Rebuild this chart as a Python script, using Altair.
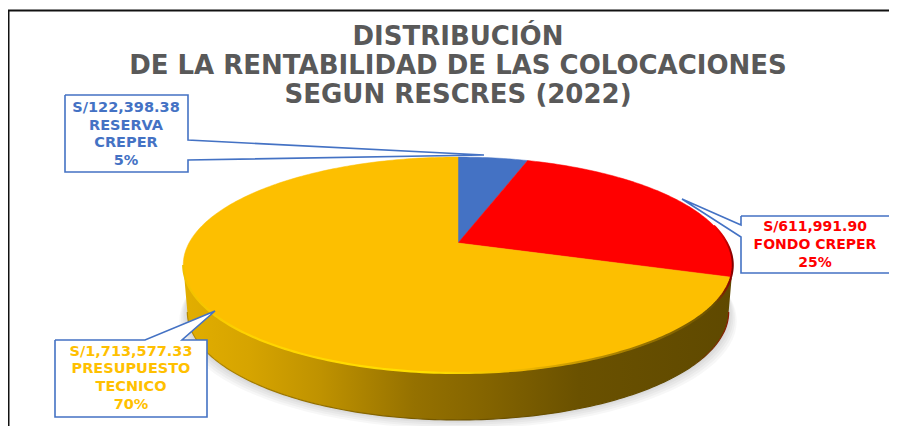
import math
import altair as alt
import pandas as pd

# Chart values
names = ["RESERVA CREPER", "FONDO CREPER", "PRESUPUESTO TECNICO"]
amounts = [122398.38, 611991.90, 1713577.33]
colors = ["#4472C4", "#FF0000", "#FDBF00"]
title_lines = ["DISTRIBUCIÓN", "DE LA RENTABILIDAD DE LAS COLOCACIONES", "SEGUN RESCRES (2022)"]
blue_lines = ["S/122,398.38", "RESERVA", "CREPER", "5%"]
red_lines = ["S/611,991.90", "FONDO CREPER", "25%"]
yellow_lines = ["S/1,713,577.33", "PRESUPUESTO", "TECNICO", "70%"]

W, H = 881, 418
xs = alt.Scale(domain=[8, 8 + W], range=[0, W])
ys = alt.Scale(domain=[8 + H, 8], range=[H, 0])
X = alt.X("x:Q", scale=xs, axis=None)
Y = alt.Y("y:Q", scale=ys, axis=None)

# Perspective view of the pie disc
CX, CY, A, B, P, DEPTH = 458, 243, 269, 103.5, 0.2037, 47


def rim(deg, grow=1.0, dy=0.0):
    t = math.radians(deg)
    w = 1 + P * math.cos(t)
    return (CX + grow * A * math.sin(t) / w, CY - B * math.cos(t) / w + dy)


def span(a, b, step=1.0, grow=1.0, dy=0.0):
    n = max(2, int(abs(b - a) / step))
    return [rim(a + (b - a) * i / n, grow, dy) for i in range(n + 1)]


def shape(points, **mark):
    df = pd.DataFrame(points, columns=["x", "y"]).assign(i=range(len(points)))
    return alt.Chart(df).mark_line(**mark).encode(x=X, y=Y, order=alt.Order("i:Q"))


def grad(stops):
    return alt.Gradient(
        gradient="linear", x1=0, x2=1, y1=0, y2=0,
        stops=[alt.GradientStop(offset=o, color=c) for o, c in stops],
    )


def text_block(lines, cx, y0, dy, color, size, font="DejaVu Sans"):
    df = pd.DataFrame({"t": lines, "x": cx, "y": [y0 + dy * i for i in range(len(lines))]})
    return alt.Chart(df).mark_text(
        font=font, fontWeight="bold", fontSize=size, color=color,
        align="center", baseline="middle",
    ).encode(x=X, y=Y, text="t:N")


layers = []

# Frame
layers.append(shape([(8.5, 434), (8.5, 10.5), (897, 10.5)], stroke="#111111", strokeWidth=2, fill="transparent"))

# Soft shadow under the pie
LOW = 0.985
LEFT, RIGHT = 258.2, 101.8
for g, d in [(1.03, 9), (1.024, 7), (1.018, 5), (1.012, 3), (1.005, 1.5)]:
    layers.append(shape(span(0, 360, 3, LOW * g, DEPTH + d), fill="#000000", fillOpacity=0.03, stroke="transparent"))

# Side wall
wall = span(LEFT, RIGHT, 1) + span(RIGHT, LEFT, 1, LOW, DEPTH)
layers.append(shape(wall + wall[:1], stroke="transparent", fill=grad([
    (0, "#E2AE00"), (0.12, "#D6A400"), (0.25, "#BF9200"), (0.42, "#957100"),
    (0.55, "#846400"), (0.72, "#6A5100"), (1, "#5F4900"),
])))
layers.append(shape(span(LEFT, RIGHT, 1, LOW, DEPTH), fill="transparent", strokeWidth=1.2, stroke=grad([
    (0, "#B58A00"), (0.5, "#6E5300"), (0.93, "#5F4900"), (1, "#8A1A00"),
])))

# Slices
total = sum(amounts)
start = 0.0
for amt, col in zip(amounts, colors):
    end = start + 360 * amt / total
    pts = [(CX, CY)] + span(start, end, 1) + [(CX, CY)]
    layers.append(shape(pts, fill=col, stroke=col, strokeWidth=0.5))
    start = end

# Bevel on the rim
layers.append(shape(span(LEFT, 108, 1), fill="transparent", strokeWidth=2.2, stroke=grad([
    (0, "#F2C000"), (0.12, "#FFD400"), (0.45, "#FFE000"), (0.62, "#F0B800"), (0.8, "#A88000"), (0.97, "#6A5000"), (1, "#8B0000"),
])))
layers.append(shape(span(80, 108, 1), fill="transparent", strokeWidth=2, stroke=grad([
    (0, "#FF0000"), (0.6, "#D00000"), (1, "#800000"),
])))

# Callouts
box = dict(fill="#FFFFFF", stroke="#4472C4", strokeWidth=1.6)
blue_box = [(65, 95), (188, 95), (188, 140), (484, 155), (188, 160), (188, 172), (65, 172), (65, 95)]
red_box = [(741, 216), (905, 216), (905, 273), (741, 273), (741, 237), (682, 199), (741, 225), (741, 216)]
yellow_box = [(55, 340), (145, 340), (215, 311), (182, 340), (207, 340), (207, 417), (55, 417), (55, 340)]
layers += [shape(blue_box, **box), shape(red_box, **box), shape(yellow_box, **box)]

# Texts
layers.append(text_block(title_lines, 458, 37, 29, "#595959", 26))
layers.append(text_block(blue_lines, 126, 108, 17.7, "#4472C4", 14.5))
layers.append(text_block(red_lines, 815, 227, 18, "#FF0000", 14))
layers.append(text_block(yellow_lines, 131, 351.5, 17.8, "#FFC000", 14.5))

chart = alt.layer(*layers).properties(
    width=W, height=H, padding=0, autosize=alt.AutoSizeParams(type="none"),
    background="#FFFFFF",
).configure_view(stroke=None)

chart.save("out.html", embed_options={"renderer": "svg", "actions": False})
